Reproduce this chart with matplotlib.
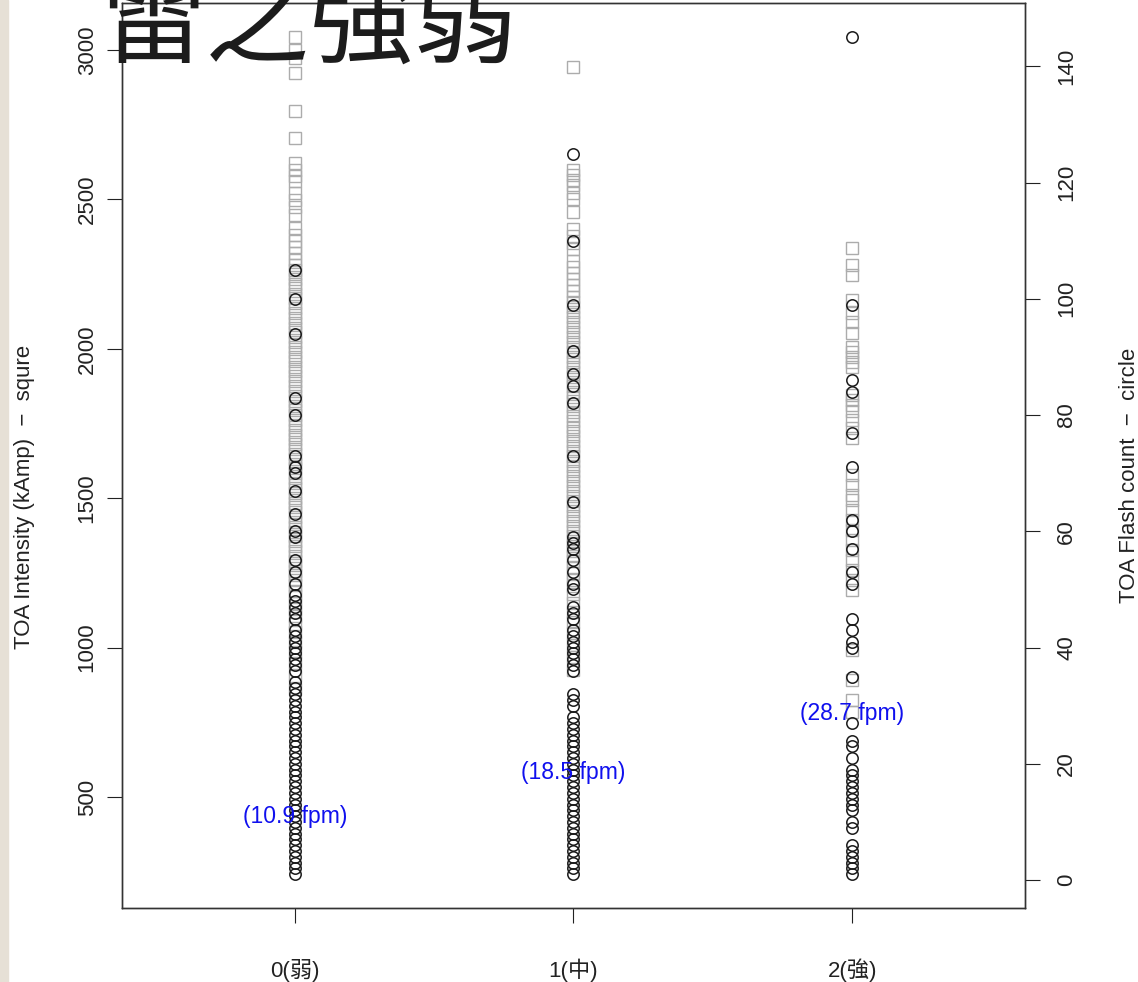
import matplotlib
matplotlib.use('Agg')
import matplotlib.pyplot as plt
import numpy as np
from matplotlib.patches import Rectangle

plt.rcParams['font.family'] = ['Liberation Sans', 'Noto Sans CJK TC', 'DejaVu Sans']

groups = [0, 1, 2]
group_labels = ['0(弱)', '1(中)', '2(強)']
fpm = [10.9, 18.5, 28.7]

# TOA intensity per minute (kAmp), one list per class
intensity_0 = [3044, 3000, 2973, 2923, 2796, 2705, 2622, 2598, 2578, 2562, 2521, 2498,
               2475, 2448, 2404, 2381, 2361, 2341, 2321, 2297, 2280, 2264, 2250, 2233,
               2218, 2203, 2185, 2170, 2152, 2136, 2120, 2104, 2088, 2071, 2055, 2040,
               2022, 2006, 1990, 1973, 1958, 1940, 1925, 1908, 1892, 1876, 1860, 1843,
               1827, 1810, 1795, 1778, 1762, 1746, 1730, 1713, 1697, 1680, 1664, 1648,
               1632, 1615, 1600, 1583, 1567, 1550, 1535, 1518, 1502, 1485, 1470, 1453,
               1437, 1420, 1405, 1388, 1372, 1356, 1340, 1323, 1307, 1290, 1275, 1258,
               1242, 1225, 1210, 1190, 1172, 1150, 1128, 1105, 1080, 1052, 1020, 985,
               950, 905, 860]
intensity_1 = [2943, 2598, 2582, 2565, 2548, 2521, 2501, 2458, 2401, 2377, 2354, 2334,
               2294, 2274, 2254, 2234, 2213, 2193, 2175, 2158, 2140, 2124, 2107, 2090,
               2073, 2057, 2040, 2024, 2007, 1990, 1974, 1957, 1940, 1924, 1907, 1890,
               1874, 1857, 1840, 1824, 1807, 1790, 1774, 1757, 1740, 1724, 1707, 1690,
               1674, 1657, 1640, 1624, 1607, 1590, 1574, 1557, 1540, 1524, 1507, 1490,
               1474, 1457, 1440, 1424, 1407, 1390, 1374, 1357, 1340, 1324, 1307, 1290,
               1270, 1250, 1228, 1205, 1180, 1150, 1118, 1085, 1050, 1010, 970, 925]
intensity_2 = [2337, 2280, 2247, 2163, 2120, 2090, 2053, 2006, 1989, 1972, 1956, 1939,
               1845, 1829, 1812, 1792, 1762, 1735, 1701, 1578, 1544, 1511, 1494, 1460,
               1427, 1393, 1360, 1327, 1293, 1260, 1226, 1193, 992, 891, 824, 784]

# TOA flash count per minute
count_0 = [105, 100, 94, 83, 80, 73, 71, 70, 67, 63, 60, 59, 55, 53, 51, 49,
           48, 47, 46, 45, 43, 42, 41, 40, 39, 38, 37, 36, 34, 33, 32, 31, 30,
           29, 28, 27, 26, 25, 24, 23, 22, 21, 20, 19, 18, 17, 16, 15, 14, 13,
           12, 11, 10, 9, 8, 7, 6, 5, 4, 3, 2, 1]
count_1 = [125, 110, 99, 91, 87, 85, 82, 73, 65, 59, 58, 57, 55, 53, 51, 50,
           47, 46, 45, 43, 42, 41, 40, 39, 38, 37, 36, 32, 31, 30, 28, 27, 26,
           25, 24, 23, 22, 21, 20, 19, 18, 17, 16, 15, 14, 13, 12, 11, 10, 9,
           8, 7, 6, 5, 4, 3, 2, 1]
count_2 = [145, 99, 86, 84, 77, 71, 62, 60, 57, 53, 51, 45, 43, 41, 40, 35, 27,
           24, 23, 21, 19, 18, 17, 16, 15, 14, 13, 12, 10, 9, 6, 5, 4, 3, 2, 1]

intensity = [intensity_0, intensity_1, intensity_2]
counts = [count_0, count_1, count_2]

fig = plt.figure(figsize=(11.38, 9.82), dpi=100)
fig.patches.append(Rectangle((0, 0), 8 / 1138, 1, transform=fig.transFigure,
                             color='#e6e0d6', zorder=0))

ax = fig.add_axes([0.1072, 0.0754, 0.7935, 0.9215])
ax2 = ax.twinx()

for g in groups:
    v = intensity[g]
    ax.plot(np.full(len(v), g), v, ls='none', marker='s', mfc='none',
            mec='#acacac', ms=8.2, mew=1.0)
    c = counts[g]
    ax2.plot(np.full(len(c), g), c, ls='none', marker='o', mfc='none',
             mec='#1a1a1a', ms=8.2, mew=1.1)
    ax2.text(g, fpm[g], '(%.1f fpm)' % fpm[g], color='#1010ee', ha='center',
             va='center', fontsize=16.5)

ax.set_xlim(-0.62, 2.62)
ax.set_ylim(129, 3157)
ax2.set_ylim(-4.8, 150.9)

ax.set_xticks(groups, group_labels)
ax.set_yticks([500, 1000, 1500, 2000, 2500, 3000])
ax2.set_yticks([0, 20, 40, 60, 80, 100, 120, 140])

ax.tick_params(axis='x', length=10.5, width=0.8, pad=26, labelsize=16, colors='#222222')
ax.tick_params(axis='y', length=10.5, width=0.8, pad=7, labelsize=16, colors='#222222')
ax2.tick_params(axis='y', length=10.5, width=0.8, pad=12, labelsize=16, colors='#222222')
for lbl in ax.get_yticklabels():
    lbl.set_rotation(90)
    lbl.set_va('center')
for lbl in ax2.get_yticklabels():
    lbl.set_rotation(90)
    lbl.set_va('center')

for a in (ax, ax2):
    for s in a.spines.values():
        s.set_color('#333333')
        s.set_linewidth(1.0)

ax.set_ylabel('TOA Intensity (kAmp)  \u2212  squre', fontsize=16, color='#222222')
ax.yaxis.set_label_coords(-0.0965, 0.454)
ax2.set_ylabel('TOA Flash count  \u2212  circle', fontsize=16, color='#222222', rotation=90)
ax2.yaxis.set_label_coords(1.104, 0.478)

fig.text(101 / 1138, 1 - 55 / 982, '雷之強弱', fontsize=75, color='#1c1c1c',
         family=['Noto Sans CJK TC', 'DejaVu Sans'], fontweight='light',
         va='baseline', ha='left')

fig.savefig('out.png', dpi=100)
